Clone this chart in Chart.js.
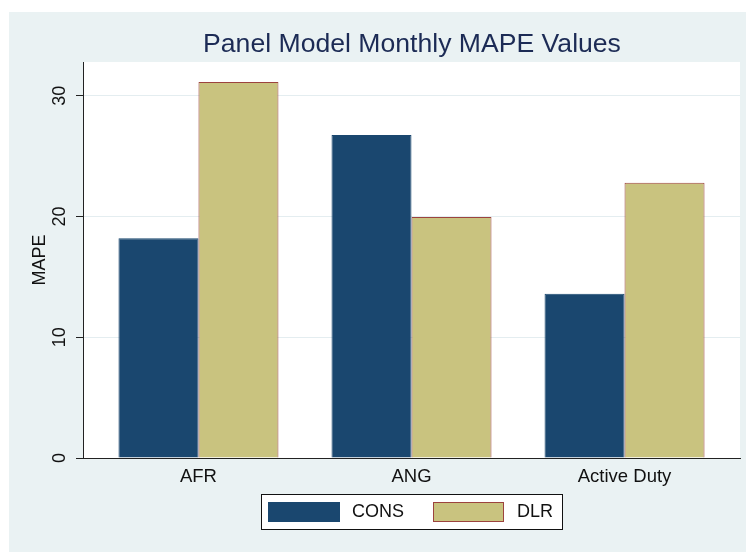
<!DOCTYPE html>
<html>
<head>
<meta charset="utf-8">
<script src="https://cdn.jsdelivr.net/npm/chart.js@4/dist/chart.umd.min.js"></script>
<style>
  html, body { margin: 0; padding: 0; background: #fff; }
  #wrap { width: 746px; height: 552px; }
</style>
</head>
<body>
<div id="wrap"><canvas id="mape"></canvas></div>
<script>
const groups = ['AFR', 'ANG', 'Active Duty'];
const consValues = [18.2, 26.75, 13.6];
const dlrValues = [31.15, 19.97, 22.8];
const yTicks = [0, 10, 20, 30];

const outerBg = '#eaf2f3';
const navy = '#1a476f';
const khaki = '#c9c37f';
const maroon = '#9c433e';
const font = '"Liberation Sans", Arial, sans-serif';

Chart.defaults.font.family = font;
Chart.defaults.color = '#111';

// backdrop: stata-like outer panel and white plot region
const backdrop = {
  id: 'backdrop',
  beforeDraw(chart) {
    const { ctx, chartArea: a } = chart;
    ctx.save();
    ctx.fillStyle = '#fff';
    ctx.fillRect(0, 0, chart.width, chart.height);
    ctx.fillStyle = outerBg;
    ctx.fillRect(9, 12, chart.width - 9, chart.height - 12);
    ctx.fillStyle = '#fff';
    ctx.fillRect(a.left, a.top, a.right - a.left, a.bottom - a.top);
    ctx.restore();
  }
};

// title + boxed legend like the original
const decor = {
  id: 'decor',
  afterDraw(chart) {
    const ctx = chart.ctx;
    ctx.save();
    ctx.fillStyle = '#1c2b55';
    ctx.font = '26.6px ' + font;
    ctx.textAlign = 'center';
    ctx.textBaseline = 'alphabetic';
    ctx.fillText('Panel Model Monthly MAPE Values', 412, 52);

    ctx.fillStyle = '#fff';
    ctx.fillRect(261, 494, 301, 35);
    ctx.strokeStyle = '#111';
    ctx.lineWidth = 1;
    ctx.strokeRect(261.5, 494.5, 301, 35);

    const items = [
      { ds: chart.data.datasets[0], x: 268, w: 72, tx: 352 },
      { ds: chart.data.datasets[1], x: 433, w: 71, tx: 517 }
    ];
    ctx.font = '18px ' + font;
    ctx.textAlign = 'left';
    ctx.textBaseline = 'middle';
    items.forEach(it => {
      ctx.fillStyle = it.ds.backgroundColor;
      ctx.fillRect(it.x, 502, it.w, 20);
      ctx.strokeStyle = it.ds.borderColor;
      ctx.strokeRect(it.x + 0.5, 502.5, it.w - 1, 19);
      ctx.fillStyle = '#111';
      ctx.fillText(it.ds.label, it.tx, 512);
    });
    ctx.restore();
  }
};

new Chart(document.querySelector('#mape'), {
  type: 'bar',
  data: {
    labels: groups,
    datasets: [
      {
        label: 'CONS',
        data: consValues,
        backgroundColor: navy,
        borderColor: navy,
        borderWidth: 1
      },
      {
        label: 'DLR',
        data: dlrValues,
        backgroundColor: khaki,
        borderColor: maroon,
        borderWidth: 1
      }
    ]
  },
  options: {
    responsive: true,
    maintainAspectRatio: false,
    animation: false,
    devicePixelRatio: 1,
    categoryPercentage: 0.751,
    barPercentage: 1,
    layout: {
      padding: { top: 62, right: 6, bottom: 60, left: 0 }
    },
    plugins: {
      legend: { display: false },
      title: { display: false },
      tooltip: { enabled: false }
    },
    scales: {
      x: {
        grid: { display: false, drawTicks: false },
        border: { display: true, color: '#222', width: 1 },
        ticks: {
          color: '#111',
          font: { size: 18.5 },
          padding: 8
        },
        afterBuildTicks(scale) {
          // small outer gap at both ends, as in the original
          scale._startValue = -0.542;
          scale._valueRange = 3.084;
        },
        afterFit(scale) {
          scale.height = 34;
        }
      },
      y: {
        min: 0,
        max: 32.8,
        grid: {
          color: c => (c.tick && c.tick.value === 0 ? 'rgba(0,0,0,0)' : '#e4edf0'),
          tickColor: '#222',
          tickLength: 7,
          lineWidth: 1
        },
        border: { display: true, color: '#222', width: 1 },
        ticks: {
          color: '#111',
          font: { size: 18 },
          padding: 6,
          minRotation: 90,
          maxRotation: 90,
          crossAlign: 'center',
          includeBounds: false
        },
        afterBuildTicks(scale) {
          scale.ticks = yTicks.map(v => ({ value: v }));
        },
        title: {
          display: true,
          text: 'MAPE',
          color: '#111',
          font: { size: 18 },
          padding: { top: 29, bottom: 0 }
        },
        afterFit(scale) {
          scale.width = 83;
        }
      }
    }
  },
  plugins: [backdrop, decor]
});
</script>
</body>
</html>
